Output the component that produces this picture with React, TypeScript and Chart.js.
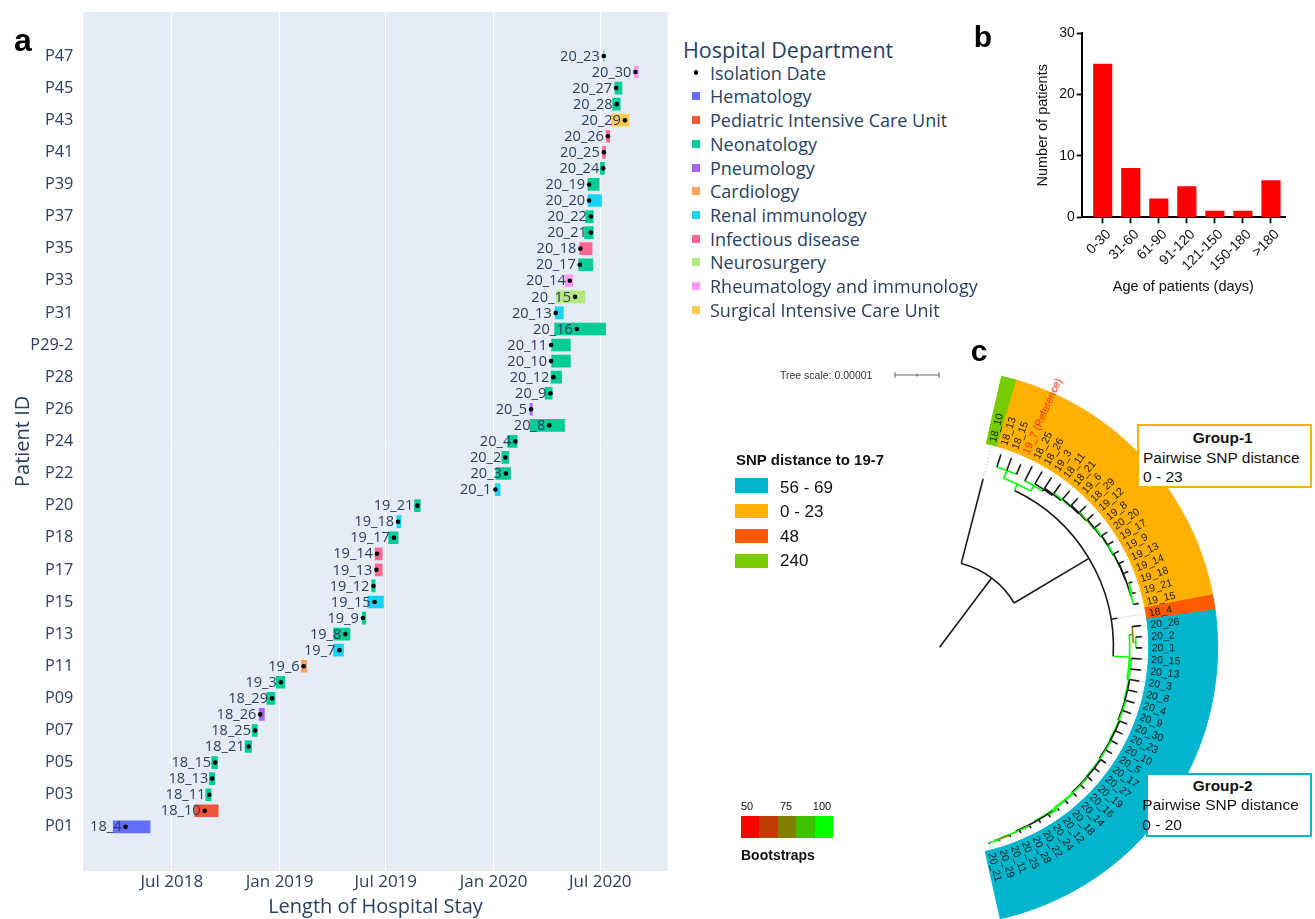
import React, { useEffect, useRef } from "react";
import { Chart, registerables } from "chart.js";

Chart.register(...registerables);

// ================= Panel a: hospital stays =================
const patientIds = [
  "P01","P02","P03","P04","P05","P06","P07","P08","P09","P10","P11","P12","P13","P14","P15","P16",
  "P17","P17-2","P18","P19","P20","P21","P22","P23","P24","P25","P26","P27","P28","P29","P29-2",
  "P30","P31","P32","P33","P34","P35","P36","P37","P38","P39","P40","P41","P42","P43","P44","P45","P46","P47",
];
const isolateIds = [
  "18_4","18_10","18_11","18_13","18_15","18_21","18_25","18_26","18_29","19_3",
  "19_6","19_7","19_8","19_9","19_15","19_12","19_13","19_14","19_17","19_18",
  "19_21","20_1","20_3","20_2","20_4","20_8","20_5","20_9","20_12","20_10",
  "20_11","20_16","20_13","20_15","20_14","20_17","20_18","20_21","20_22","20_20",
  "20_19","20_24","20_25","20_26","20_29","20_28","20_27","20_30","20_23",
];
const stayDepartment = [
  "Hematology","Pediatric Intensive Care Unit","Neonatology","Neonatology","Neonatology","Neonatology","Neonatology","Pneumology","Neonatology","Neonatology",
  "Cardiology","Renal immunology","Neonatology","Neonatology","Renal immunology","Neonatology","Infectious disease","Infectious disease","Neonatology","Renal immunology",
  "Neonatology","Renal immunology","Neonatology","Neonatology","Neonatology","Neonatology","Pneumology","Neonatology","Neonatology","Neonatology",
  "Neonatology","Neonatology","Renal immunology","Neurosurgery","Rheumatology and immunology","Neonatology","Infectious disease","Neonatology","Neonatology","Renal immunology",
  "Neonatology","Neonatology","Infectious disease","Infectious disease","Surgical Intensive Care Unit","Neonatology","Neonatology","Rheumatology and immunology","Neonatology",
];
const stayStart = [
  "2018-03-23","2018-08-09","2018-08-28","2018-09-03","2018-09-07","2018-11-03","2018-11-15","2018-11-27","2018-12-10","2018-12-26",
  "2019-02-07","2019-04-03","2019-04-03","2019-05-22","2019-05-31","2019-06-07","2019-06-13","2019-06-13","2019-07-06","2019-07-20",
  "2019-08-19","2020-01-04","2020-01-05","2020-01-15","2020-01-25","2020-03-03","2020-03-03","2020-03-29","2020-04-08","2020-04-09",
  "2020-04-09","2020-04-14","2020-04-15","2020-04-17","2020-05-02","2020-05-25","2020-05-27","2020-06-04","2020-06-06","2020-06-10",
  "2020-06-10","2020-07-01","2020-07-05","2020-07-11","2020-07-20","2020-07-22","2020-07-26","2020-08-28","2020-07-07",
];
const stayEnd = [
  "2018-05-25","2018-09-18","2018-09-06","2018-09-12","2018-09-17","2018-11-14","2018-11-24","2018-12-06","2018-12-24","2019-01-10",
  "2019-02-16","2019-04-20","2019-05-01","2019-05-28","2019-06-27","2019-06-13","2019-06-25","2019-06-25","2019-07-22","2019-07-27",
  "2019-08-29","2020-01-12","2020-01-30","2020-01-27","2020-02-10","2020-05-01","2020-03-07","2020-04-10","2020-04-26","2020-05-11",
  "2020-05-11","2020-07-10","2020-04-29","2020-06-05","2020-05-15","2020-06-18","2020-06-17","2020-06-19","2020-06-19","2020-07-03",
  "2020-06-29","2020-07-08","2020-07-10","2020-07-17","2020-08-19","2020-08-04","2020-08-07","2020-09-04","2020-07-07",
];
const isolationDates = [
  "2018-04-13","2018-08-26","2018-09-03","2018-09-08","2018-09-13","2018-11-09","2018-11-20","2018-11-29","2018-12-19","2019-01-03",
  "2019-02-11","2019-04-13","2019-04-23","2019-05-23","2019-06-12","2019-06-10","2019-06-15","2019-06-16","2019-07-15","2019-07-22",
  "2019-08-24","2020-01-04","2020-01-22","2020-01-21","2020-02-07","2020-04-05","2020-03-05","2020-04-07","2020-04-12","2020-04-08",
  "2020-04-08","2020-05-22","2020-04-16","2020-05-19","2020-05-10","2020-05-27","2020-05-28","2020-06-15","2020-06-15","2020-06-12",
  "2020-06-12","2020-07-06","2020-07-07","2020-07-14","2020-08-12","2020-07-29","2020-07-28","2020-08-30","2020-07-07",
];
const departmentNames = [
  "Hematology","Pediatric Intensive Care Unit","Neonatology","Pneumology","Cardiology",
  "Renal immunology","Infectious disease","Neurosurgery","Rheumatology and immunology","Surgical Intensive Care Unit",
];
const departmentColors = [
  "#636EFA","#EF553B","#00CC96","#AB63FA","#FFA15A","#19D3F3","#FF6692","#B6E880","#FF97FF","#FECB52",
];
const timeTickDates = ["2018-07-01","2019-01-01","2019-07-01","2020-01-01","2020-07-01"];
const timeTickLabels = ["Jul 2018","Jan 2019","Jul 2019","Jan 2020","Jul 2020"];
const timeAxisRange = ["2018-01-31","2020-10-24"];

// ================= Panel b: age groups =================
const ageGroups = ["0-30","31-60","61-90","91-120","121-150","150-180",">180"];
const patientsPerAgeGroup = [25, 8, 3, 5, 1, 1, 6];
const ageCountTicks = [0, 10, 20, 30];

// ================= Panel c: phylogeny =================
const snpClassLabels = ["56 - 69", "0 - 23", "48", "240"];
const snpClassColors = ["#00B5CC", "#FFB000", "#FF5A00", "#77CC00"];
const leavesSnp240 = ["18_10"];
const leavesSnp0to23 = [
  "18_13","18_15","19_7","18_25","18_26","19_3","18_11","18_21","19_6","18_29",
  "19_12","19_8","20_20","19_17","19_9","19_13","19_14","19_18","19_21","19_15",
];
const leavesSnp48 = ["18_4"];
const leavesSnp56to69 = [
  "20_26","20_2","20_1","20_15","20_13","20_3","20_8","20_4","20_9","20_30",
  "20_23","20_10","20_5","20_17","20_27","20_19","20_16","20_14","20_18","20_12",
  "20_24","20_22","20_28","20_25","20_11","20_29","20_21",
];
const referenceLeaf = "19_7";
const treeNewick =
  "((18_10:1.98,(" +
  "((18_13:0.3,18_15:0.3,19_7:0.25)100:0.19,(18_25:0.37,(18_26:0.32,(19_3:0.29,(18_11:0.26,(18_21:0.24,(19_6:0.22,(18_29:0.2,(19_12:0.18,(19_8:0.16,(20_20:0.15,(19_17:0.14,(19_9:0.13,(19_13:0.12,19_14:0.12,((19_18:0.08,19_21:0.08)100:0.03,19_15:0.12)100:0.01):0.01):0.01)100:0.01):0.01)100:0.02):0.02)90:0.02):0.02):0.02)100:0.03):0.03):0.05)100:0.14)100:0.16" +
  ",18_4:0.14," +
  "((20_26:0.2,(20_2:0.14,20_1:0.14)100:0.06)70:0.08,(20_15:0.24,20_13:0.24,(20_3:0.22,20_8:0.22,(20_4:0.2,20_9:0.2,(20_30:0.18,20_23:0.18,(20_10:0.16,20_5:0.16,(20_17:0.14,20_27:0.14,(20_19:0.12,20_16:0.12,(20_14:0.1,20_18:0.1,((20_12:0.06,20_24:0.06)100:0.02,20_22:0.08,(20_28:0.06,20_25:0.06,(20_11:0.04,(20_29:0.02,20_21:0.02)100:0.02)80:0.02)100:0.02):0.02)100:0.02)100:0.02):0.02)100:0.02):0.02)100:0.02):0.02)100:0.04)100:0.37" +
  "):1.98):1.97);";
const treeScaleLabel = "Tree scale: 0.00001";
const bootstrapTickLabels = ["50", "75", "100"];
const bootstrapColors = ["#FF0000", "#C03C00", "#808000", "#40C000", "#00FF00"];

// ================= layout constants =================
const FONT_PLOTLY = '"Open Sans", sans-serif';
const FONT_ARIAL = '"Liberation Sans", Arial, sans-serif';
const PLOTLY_TEXT = "#2a3f5f";

const toDay = (s: string) => Date.parse(s + "T00:00:00Z") / 86400000;

// ---------- generic canvas holder ----------
function ChartBox(props: { left: number; top: number; width: number; height: number; make: (c: HTMLCanvasElement) => Chart }) {
  const ref = useRef<HTMLCanvasElement>(null);
  useEffect(() => {
    const ch = props.make(ref.current as HTMLCanvasElement);
    return () => ch.destroy();
  }, []);
  return (
    <canvas
      ref={ref}
      width={props.width}
      height={props.height}
      style={{ position: "absolute", left: props.left, top: props.top, width: props.width, height: props.height, display: "block" }}
    />
  );
}

function T(props: { x: number; y: number; children: any; size: number; bold?: boolean; color?: string; family?: string; align?: string }) {
  const tx = props.align === "center" ? "-50%" : props.align === "right" ? "-100%" : "0";
  return (
    <div
      style={{
        position: "absolute", left: props.x, top: props.y, transform: `translate(${tx}, -50%)`,
        fontSize: props.size, fontWeight: props.bold ? 700 : 400, color: props.color || "#000",
        fontFamily: props.family || FONT_ARIAL, whiteSpace: "nowrap", lineHeight: 1,
      }}
    >
      {props.children}
    </div>
  );
}

// ---------- Panel a chart ----------
function makeStayChart(canvas: HTMLCanvasElement) {
  const rows = isolateIds.map((_, i) => i);
  const bgPlugin = {
    id: "plotBg",
    beforeDraw(chart: any) {
      const { ctx, chartArea: a } = chart;
      ctx.save();
      ctx.fillStyle = "#E5ECF6";
      ctx.fillRect(a.left, a.top, a.right - a.left, a.bottom - a.top);
      ctx.restore();
    },
  };
  const labelPlugin = {
    id: "stayLabels",
    afterDatasetDraw(chart: any, args: any) {
      if (args.index !== 0) return;
      const { ctx } = chart;
      const xs = chart.scales.x, ys = chart.scales.y;
      ctx.save();
      ctx.font = `14.6px ${FONT_PLOTLY}`;
      ctx.fillStyle = PLOTLY_TEXT;
      ctx.textAlign = "right";
      ctx.textBaseline = "middle";
      isolateIds.forEach((id, i) => {
        ctx.fillText(id, xs.getPixelForValue(toDay(isolationDates[i])) - 4, ys.getPixelForValue(i) + 0.5);
      });
      ctx.restore();
    },
  };
  return new Chart(canvas, {
    type: "bar",
    data: {
      datasets: [
        {
          type: "bar",
          indexAxis: "y",
          order: 2,
          data: rows.map((i) => ({ x: [toDay(stayStart[i]), toDay(stayEnd[i])], y: i })),
          backgroundColor: rows.map((i) => departmentColors[departmentNames.indexOf(stayDepartment[i])]),
          borderWidth: 0,
          borderSkipped: false,
          barThickness: 12,
        } as any,
        {
          type: "scatter",
          order: 1,
          data: rows.map((i) => ({ x: toDay(isolationDates[i]), y: i })),
          pointRadius: 2.3,
          pointBackgroundColor: "#000",
          pointBorderWidth: 0,
          showLine: false,
        } as any,
      ],
    },
    options: {
      responsive: false,
      animation: false,
      events: [],
      layout: { padding: { top: 9.5, right: 7.3, left: 0, bottom: 0 } },
      plugins: { legend: { display: false }, tooltip: { enabled: false } },
      scales: {
        x: {
          type: "linear",
          offset: false,
          min: toDay(timeAxisRange[0]),
          max: toDay(timeAxisRange[1]),
          afterBuildTicks: (s: any) => { s.ticks = timeTickDates.map((d) => ({ value: toDay(d) })); },
          afterFit: (s: any) => { s.height = 48; },
          ticks: {
            callback: (_v: any, i: number) => timeTickLabels[i],
            font: { family: FONT_PLOTLY, size: 17 },
            color: PLOTLY_TEXT, padding: 1, maxRotation: 0, autoSkip: false,
          },
          grid: { color: "#ffffff", lineWidth: 1, drawTicks: false, offset: false },
          border: { display: false },
          title: {
            display: true, text: "Length of Hospital Stay",
            font: { family: FONT_PLOTLY, size: 20 }, color: PLOTLY_TEXT, padding: { top: 0, bottom: 0 },
          },
        },
        y: {
          type: "linear",
          offset: false,
          min: -2.75,
          max: 50.75,
          afterBuildTicks: (s: any) => { s.ticks = rows.filter((i) => i % 2 === 0).map((i) => ({ value: i })); },
          afterFit: (s: any) => { s.width = 83.3; },
          ticks: {
            callback: (v: any) => patientIds[v] ?? "",
            font: { family: FONT_PLOTLY, size: 16.3 },
            color: PLOTLY_TEXT, padding: 2, autoSkip: false,
          },
          grid: { display: false, offset: false },
          border: { display: false },
          title: {
            display: true, text: "Patient ID",
            font: { family: FONT_PLOTLY, size: 20 }, color: PLOTLY_TEXT, padding: { top: 11, bottom: 0 },
          },
        },
      },
    } as any,
    plugins: [bgPlugin, labelPlugin],
  });
}

// ---------- Panel b chart ----------
function makeAgeChart(canvas: HTMLCanvasElement) {
  return new Chart(canvas, {
    type: "bar",
    data: {
      datasets: [
        {
          data: ageGroups.map((_, i) => ({ x: i, y: patientsPerAgeGroup[i] })),
          backgroundColor: "#FF0000",
          borderWidth: 0,
          barThickness: 18.5,
        } as any,
      ],
    },
    options: {
      responsive: false,
      animation: false,
      events: [],
      layout: { padding: { top: 33.3, right: 30, left: 0, bottom: 0 } },
      plugins: { legend: { display: false }, tooltip: { enabled: false } },
      scales: {
        x: {
          type: "linear",
          offset: false,
          min: -0.75,
          max: 6.5,
          afterBuildTicks: (s: any) => { s.ticks = ageGroups.map((_, i) => ({ value: i })); },
          afterFit: (s: any) => { s.height = 92.7; },
          ticks: {
            callback: (v: any) => ageGroups[v] ?? "",
            minRotation: 45, maxRotation: 45, autoSkip: false, labelOffset: 6,
            font: { family: FONT_ARIAL, size: 14 }, color: "#111", padding: 3,
          },
          grid: { drawOnChartArea: false, drawTicks: true, tickLength: 6, tickColor: "#000", tickWidth: 1.8, offset: false },
          border: { display: true, color: "#000", width: 2 },
          title: {
            display: true, text: "Age of patients (days)",
            font: { family: FONT_ARIAL, size: 14.5 }, color: "#111", padding: { top: 0, bottom: 14 },
          },
        },
        y: {
          type: "linear",
          offset: false,
          min: 0,
          max: 30,
          afterBuildTicks: (s: any) => { s.ticks = ageCountTicks.map((v) => ({ value: v })); },
          afterFit: (s: any) => { s.width = 121.7; },
          ticks: { font: { family: FONT_ARIAL, size: 14 }, color: "#111", padding: 2 },
          grid: { drawOnChartArea: false, drawTicks: true, tickLength: 5, tickColor: "#000", tickWidth: 1.8, offset: false },
          border: { display: true, color: "#000", width: 2 },
          title: {
            display: true, text: "Number of patients",
            font: { family: FONT_ARIAL, size: 14.5 }, color: "#111", padding: { top: 74, bottom: 0 },
          },
        },
      },
    } as any,
  });
}

// ---------- Panel c: ring + tree ----------
const ringLeaves = [...leavesSnp240, ...leavesSnp0to23, ...leavesSnp48, ...leavesSnp56to69];
const ringLeafColors = [
  ...leavesSnp240.map(() => snpClassColors[3]),
  ...leavesSnp0to23.map(() => snpClassColors[1]),
  ...leavesSnp48.map(() => snpClassColors[2]),
  ...leavesSnp56to69.map(() => snpClassColors[0]),
];

type TN = { name: string; len: number; boot: number | null; kids: TN[] };
function parseNewick(s: string): TN {
  let i = 0;
  function node(): TN {
    const n: TN = { name: "", len: 0, boot: null, kids: [] };
    if (s[i] === "(") {
      i++;
      n.kids.push(node());
      while (s[i] === ",") { i++; n.kids.push(node()); }
      i++;
    }
    let lab = "";
    while (i < s.length && !":,);".includes(s[i])) lab += s[i++];
    if (s[i] === ":") {
      i++;
      let num = "";
      while (i < s.length && !",);".includes(s[i])) num += s[i++];
      n.len = parseFloat(num);
    }
    if (n.kids.length) n.boot = lab ? parseFloat(lab) : null;
    else n.name = lab;
    return n;
  }
  return node();
}
const treeRoot = parseNewick(treeNewick);

// ring geometry (canvas of panel c: left 700, top 320, 615 x 610)
const C_W = 615, C_H = 610;
const RING_CX = 239.6, RING_CY = 327.35, RING_R = 278, RING_CUT = 0.752;
const RING_ROT = 12.9, RING_CIRC = 154.5;
const TREE_RING_DEPTH = 4.75; // ring inner edge in units of 0.00001

function ringPadding() {
  const s = ((RING_ROT - 90) * Math.PI) / 180;
  const e = s + (RING_CIRC * Math.PI) / 180;
  const inside = (a: number) => [a, a - 2 * Math.PI, a + 2 * Math.PI].some((v) => v >= s && v <= e);
  const c = RING_CUT;
  const sx = Math.cos(s), sy = Math.sin(s), ex = Math.cos(e), ey = Math.sin(e);
  const mx = (a: number, p: number, q: number) => (inside(a) ? 1 : Math.max(p, p * c, q, q * c));
  const mn = (a: number, p: number, q: number) => (inside(a) ? -1 : Math.min(p, p * c, q, q * c));
  const maxX = mx(0, sx, ex), maxY = mx(Math.PI / 2, sy, ey);
  const minX = mn(Math.PI, sx, ex), minY = mn(-Math.PI / 2, sy, ey);
  const ratioY = (maxY - minY) / 2;
  const offX = -(maxX + minX) / 2, offY = -(maxY + minY) / 2;
  const spacing = 1;
  const h = 2 * RING_R * ratioY + spacing;
  const cyA = RING_CY - offY * RING_R;
  const cxA = RING_CX - offX * RING_R;
  const halfW = Math.min(cxA, C_W - cxA);
  return { top: cyA - h / 2, bottom: C_H - (cyA + h / 2), left: cxA - halfW, right: C_W - (cxA + halfW) };
}

function bootColor(b: number | null) {
  if (b === null) return "#1a1a1a";
  const k = Math.max(0, Math.min(bootstrapColors.length - 1, Math.round((b - 50) / 12.5)));
  return bootstrapColors[k];
}

function makeTreeChart(canvas: HTMLCanvasElement) {
  const treePlugin = {
    id: "tree",
    afterDatasetsDraw(chart: any) {
      const arcs = chart.getDatasetMeta(0).data as any[];
      const cx = arcs[0].x, cy = arcs[0].y, rIn = arcs[0].innerRadius;
      const unit = rIn / TREE_RING_DEPTH;
      const leafAngle = (name: string) => {
        const a = arcs[ringLeaves.indexOf(name)];
        return (a.startAngle + a.endAngle) / 2;
      };
      const angleOf = (n: TN): number =>
        n.kids.length ? (angleOf(n.kids[0]) + angleOf(n.kids[n.kids.length - 1])) / 2 : leafAngle(n.name);
      const ctx = chart.ctx as CanvasRenderingContext2D;
      ctx.save();
      // dotted leaders
      ctx.setLineDash([1.5, 2]);
      ctx.strokeStyle = "#c4c4c4";
      ctx.lineWidth = 1;
      const leaders = (n: TN, d: number) => {
        const dd = d + n.len;
        if (n.kids.length) { n.kids.forEach((k) => leaders(k, dd)); return; }
        const t = leafAngle(n.name);
        ctx.beginPath();
        ctx.moveTo(cx + Math.cos(t) * dd * unit, cy + Math.sin(t) * dd * unit);
        ctx.lineTo(cx + Math.cos(t) * (rIn - 1), cy + Math.sin(t) * (rIn - 1));
        ctx.stroke();
      };
      leaders(treeRoot, 0);
      ctx.setLineDash([]);
      ctx.lineWidth = 1.6;
      const draw = (n: TN, parentDepth: number) => {
        const d = parentDepth + n.len;
        const t = angleOf(n);
        const col = n.kids.length ? bootColor(n.boot) : "#1a1a1a";
        ctx.strokeStyle = col;
        if (n.len > 0) {
          ctx.beginPath();
          ctx.moveTo(cx + Math.cos(t) * parentDepth * unit, cy + Math.sin(t) * parentDepth * unit);
          ctx.lineTo(cx + Math.cos(t) * d * unit, cy + Math.sin(t) * d * unit);
          ctx.stroke();
        }
        if (n.kids.length) {
          const a0 = angleOf(n.kids[0]), a1 = angleOf(n.kids[n.kids.length - 1]);
          if (a1 > a0) {
            ctx.beginPath();
            ctx.arc(cx, cy, d * unit, a0, a1);
            ctx.stroke();
          }
          n.kids.forEach((k) => draw(k, d));
        }
      };
      draw(treeRoot, 0);
      // leaf labels in the ring
      ctx.font = `10.5px ${FONT_ARIAL}`;
      ctx.textAlign = "left";
      ctx.textBaseline = "middle";
      arcs.forEach((a, i) => {
        const t = (a.startAngle + a.endAngle) / 2;
        const isRef = ringLeaves[i] === referenceLeaf;
        ctx.save();
        ctx.translate(cx, cy);
        ctx.rotate(t);
        ctx.fillStyle = isRef ? "#FF2A00" : "#1c1c1c";
        ctx.fillText(isRef ? `${ringLeaves[i]} (Reference)` : ringLeaves[i], rIn + 3, 0.5);
        ctx.restore();
      });
      // tree scale bar (1 unit = 0.00001)
      const bx = 195, by = 55;
      ctx.strokeStyle = "#666";
      ctx.lineWidth = 1;
      ctx.beginPath();
      ctx.moveTo(bx, by); ctx.lineTo(bx + unit, by);
      ctx.moveTo(bx, by - 3); ctx.lineTo(bx, by + 3);
      ctx.moveTo(bx + unit, by - 3); ctx.lineTo(bx + unit, by + 3);
      ctx.moveTo(bx + unit / 2, by - 1.5); ctx.lineTo(bx + unit / 2, by + 1.5);
      ctx.stroke();
      ctx.restore();
    },
  };
  return new Chart(canvas, {
    type: "doughnut",
    data: {
      labels: ringLeaves,
      datasets: [
        {
          data: ringLeaves.map(() => 1),
          backgroundColor: ringLeafColors,
          borderColor: ringLeafColors,
          borderWidth: 1,
          hoverBorderWidth: 1,
          hoverOffset: 0,
          offset: 0,
        } as any,
      ],
    },
    options: {
      responsive: false,
      animation: false,
      events: [],
      rotation: RING_ROT,
      circumference: RING_CIRC,
      cutout: `${RING_CUT * 100}%`,
      spacing: 0,
      layout: { padding: ringPadding() },
      plugins: { legend: { display: false }, tooltip: { enabled: false } },
    } as any,
    plugins: [treePlugin],
  });
}

// ================= App =================
export default function App() {
  const legendTop = 72.7, legendStep = 23.7;
  const snpRows = [0, 1, 2, 3];
  return (
    <div style={{ position: "absolute", left: 0, top: 0, width: 1315, height: 919, overflow: "hidden", background: "#fff" }}>
      <ChartBox left={0} top={0} width={675} height={919} make={makeStayChart} />
      <ChartBox left={960} top={0} width={355} height={310} make={makeAgeChart} />
      <ChartBox left={700} top={320} width={C_W} height={C_H} make={makeTreeChart} />

      {/* panel letters */}
      <T x={23} y={40} size={32} bold align="center">a</T>
      <T x={983} y={37} size={30} bold align="center">b</T>
      <T x={979} y={351} size={30} bold align="center">c</T>

      {/* panel a legend */}
      <T x={683} y={50} size={21.5} color={PLOTLY_TEXT} family={FONT_PLOTLY}>Hospital Department</T>
      <div style={{ position: "absolute", left: 696 - 2.3, top: legendTop - 2.3, width: 4.6, height: 4.6, borderRadius: "50%", background: "#000" }} />
      <T x={710} y={legendTop} size={18} color={PLOTLY_TEXT} family={FONT_PLOTLY}>Isolation Date</T>
      {departmentNames.map((d, k) => (
        <React.Fragment key={d}>
          <div style={{ position: "absolute", left: 692, top: legendTop + legendStep * (k + 1) - 4, width: 8, height: 8, background: departmentColors[k] }} />
          <T x={710} y={legendTop + legendStep * (k + 1)} size={18} color={PLOTLY_TEXT} family={FONT_PLOTLY}>{d}</T>
        </React.Fragment>
      ))}

      {/* panel c legends */}
      <T x={780} y={375} size={10.5} color="#333">{treeScaleLabel}</T>
      <T x={736} y={459.3} size={15} bold color="#111">SNP distance to 19-7</T>
      {snpRows.map((k) => (
        <React.Fragment key={k}>
          <div style={{ position: "absolute", left: 735, top: 478.3 + k * 25.2, width: 33, height: 14.5, background: snpClassColors[k] }} />
          <T x={780} y={487 + k * 24.3} size={17} color="#111">{snpClassLabels[k]}</T>
        </React.Fragment>
      ))}

      {/* bootstraps legend */}
      <T x={747} y={806} size={11} color="#111" align="center">{bootstrapTickLabels[0]}</T>
      <T x={786} y={806} size={11} color="#111" align="center">{bootstrapTickLabels[1]}</T>
      <T x={822} y={806} size={11} color="#111" align="center">{bootstrapTickLabels[2]}</T>
      <div style={{ position: "absolute", left: 741, top: 816, width: 92, height: 22, display: "flex" }}>
        {bootstrapColors.map((c) => (
          <div key={c} style={{ flex: 1, background: c }} />
        ))}
      </div>
      <T x={741} y={855} size={14} bold color="#111">Bootstraps</T>

      {/* group boxes */}
      <div style={{ position: "absolute", left: 1136.7, top: 424, width: 175, height: 63.7, boxSizing: "border-box", border: "2px solid #FFB000", background: "#fff" }} />
      <T x={1222.7} y={437.7} size={15.4} bold color="#111" align="center">Group-1</T>
      <T x={1143} y={457.7} size={15.5} color="#111">Pairwise SNP distance</T>
      <T x={1143} y={476.7} size={15.5} color="#111">0 - 23</T>

      <div style={{ position: "absolute", left: 1146, top: 772.7, width: 166, height: 64, boxSizing: "border-box", border: "2px solid #00B5CC", background: "#fff" }} />
      <T x={1222.7} y={785.7} size={15.4} bold color="#111" align="center">Group-2</T>
      <T x={1142.3} y={805} size={15.5} color="#111">Pairwise SNP distance</T>
      <T x={1142.3} y={825} size={15.5} color="#111">0 - 20</T>
    </div>
  );
}
